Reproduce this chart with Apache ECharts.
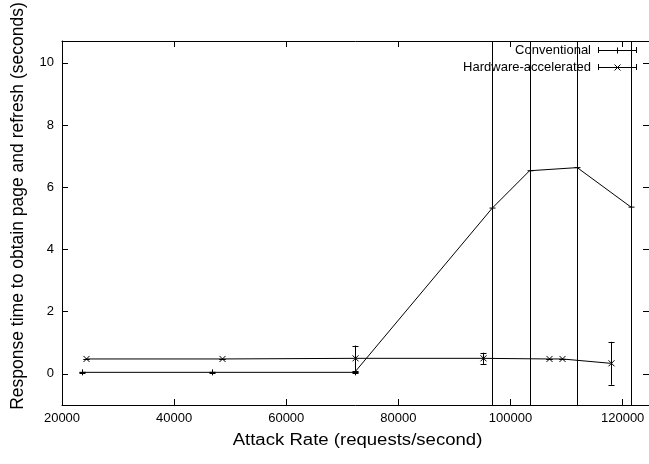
<!DOCTYPE html>
<html><head><meta charset="utf-8">
<script src="https://cdn.jsdelivr.net/npm/echarts@6/dist/echarts.min.js"></script>
<style>html,body{margin:0;padding:0;background:#fff}#c{width:649px;height:464px}</style>
</head><body><div id="c"></div>
<script>
const seriesNames = ['Conventional', 'Hardware-accelerated'];
const convX = [23600, 46800, 72200, 96750, 103400, 111900, 121500];
const convY = [0.05, 0.05, 0.05, 5.33, 6.53, 6.63, 5.36];
const convErr = [0.02, 0.02, 0.02, 9.5, 10.5, 11.0, 9.0];
const hwX = [24200, 48500, 72200, 95100, 106800, 109200, 117850];
const hwY = [0.48, 0.48, 0.50, 0.50, 0.48, 0.48, 0.34];
const hwErr = [0.01, 0.01, 0.41, 0.18, 0.01, 0.01, 0.69];
const xTicks = [20000, 40000, 60000, 80000, 100000, 120000];
const yTicks = [0, 2, 4, 6, 8, 10];
const xTitle = 'Attack Rate (requests/second)';
const yTitle = 'Response time to obtain page and refresh (seconds)';

const FONT = '"Liberation Sans", Arial, sans-serif';
const chart = echarts.init(document.getElementById('c'), null, {renderer: 'canvas'});
const st = {stroke: '#000', lineWidth: 1, fill: null};
const px = v => Math.round(v) + 0.5;

function markerShapes(kind, x, y, s) {
  if (kind === 'plus') {
    return [
      {type: 'line', shape: {x1: x - s, y1: y, x2: x + s, y2: y}, style: st},
      {type: 'line', shape: {x1: x, y1: y - s, x2: x, y2: y + s}, style: st}
    ];
  }
  return [
    {type: 'line', shape: {x1: x - s, y1: y - s, x2: x + s, y2: y + s}, style: st},
    {type: 'line', shape: {x1: x - s, y1: y + s, x2: x + s, y2: y - s}, style: st}
  ];
}

function makeRender(kind) {
  return function (params, api) {
    const cs = params.coordSys;
    const xv = api.value(0), yv = api.value(1), ev = api.value(2);
    const p = api.coord([xv, yv]);
    const top = api.coord([xv, yv + ev])[1];
    const bot = api.coord([xv, yv - ev])[1];
    const y0 = cs.y, y1 = cs.y + cs.height;
    const x = px(p[0]);
    const children = [];
    const t = Math.max(top, y0), b = Math.min(bot, y1);
    children.push({type: 'line', shape: {x1: x, y1: t, x2: x, y2: b}, style: st});
    const cw = 3;
    if (top >= y0) children.push({type: 'line', shape: {x1: x - cw, y1: px(top), x2: x + cw, y2: px(top)}, style: st});
    if (bot <= y1) children.push({type: 'line', shape: {x1: x - cw, y1: px(bot), x2: x + cw, y2: px(bot)}, style: st});
    markerShapes(kind, x, p[1], 3).forEach(c => children.push(c));
    return {type: 'group', children: children};
  };
}

const convData = convX.map((x, i) => [x, convY[i], convErr[i]]);
const hwData = hwX.map((x, i) => [x, hwY[i], hwErr[i]]);

const axisLineBlack = {show: true, onZero: false, lineStyle: {color: '#000', width: 1}};
const tickIn = {show: true, inside: true, length: 6, lineStyle: {color: '#000', width: 1}};

function legendItem(label, kind, y) {
  const x1 = 598, x2 = 636, xm = 617;
  const els = [
    {type: 'text', x: 591, y: y, style: {text: label, font: '13px ' + FONT, fill: '#000', textAlign: 'right', textVerticalAlign: 'middle'}},
    {type: 'line', shape: {x1: x1, y1: y + 0.5, x2: x2, y2: y + 0.5}, style: st},
    {type: 'line', shape: {x1: x1 + 0.5, y1: y - 3, x2: x1 + 0.5, y2: y + 3}, style: st},
    {type: 'line', shape: {x1: x2 + 0.5, y1: y - 3, x2: x2 + 0.5, y2: y + 3}, style: st}
  ];
  markerShapes(kind, xm + 0.5, y + 0.5, 3).forEach(c => els.push(c));
  return els;
}

const option = {
  backgroundColor: '#fff',
  animation: false,
  grid: {left: 62, top: 41, bottom: 59, right: -2, containLabel: false},
  xAxis: [
    {type: 'value', position: 'bottom', min: 20000, max: 124700, interval: 20000,
     axisLine: axisLineBlack, axisTick: tickIn, splitLine: {show: false},
     axisLabel: {color: '#000', fontFamily: FONT, fontSize: 13, margin: 7, showMaxLabel: false,
                 formatter: v => String(v)}},
    {type: 'value', position: 'top', min: 20000, max: 124700, interval: 20000,
     axisLine: axisLineBlack, axisTick: tickIn, splitLine: {show: false},
     axisLabel: {show: false}}
  ],
  yAxis: [
    {type: 'value', position: 'left', min: -1, max: 10.7,
     axisLine: axisLineBlack,
     axisTick: Object.assign({}, tickIn, {customValues: yTicks}),
     splitLine: {show: false},
     axisLabel: {color: '#000', fontFamily: FONT, fontSize: 13, margin: 8, customValues: yTicks,
                 formatter: v => String(v)}},
    {type: 'value', position: 'right', min: -1, max: 10.7,
     axisLine: axisLineBlack,
     axisTick: Object.assign({}, tickIn, {customValues: yTicks}),
     splitLine: {show: false}, axisLabel: {show: false}}
  ],
  series: [
    {name: seriesNames[0], type: 'line', data: convData.map(d => [d[0], d[1]]), symbol: 'none',
     lineStyle: {color: '#000', width: 1}, xAxisIndex: 0, yAxisIndex: 0, z: 2},
    {name: seriesNames[1], type: 'line', data: hwData.map(d => [d[0], d[1]]), symbol: 'none',
     lineStyle: {color: '#000', width: 1}, xAxisIndex: 0, yAxisIndex: 0, z: 2},
    {name: seriesNames[0] + ' err', type: 'custom', data: convData, renderItem: makeRender('plus'),
     encode: {x: 0, y: 1}, xAxisIndex: 0, yAxisIndex: 0, z: 3},
    {name: seriesNames[1] + ' err', type: 'custom', data: hwData, renderItem: makeRender('cross'),
     encode: {x: 0, y: 1}, xAxisIndex: 0, yAxisIndex: 0, z: 3}
  ],
  graphic: [
    {type: 'text', x: 357.5, y: 441, scaleX: 1.16, style: {text: xTitle, font: '16px ' + FONT, fill: '#000', textAlign: 'center', textVerticalAlign: 'middle'}},
    {type: 'text', x: 18, y: 206, rotation: Math.PI / 2, style: {text: yTitle, font: '17.5px ' + FONT, fill: '#000', textAlign: 'center', textVerticalAlign: 'middle'}}
  ].concat(legendItem(seriesNames[0], 'plus', 50)).concat(legendItem(seriesNames[1], 'cross', 67))
};
chart.setOption(option);
</script>
</body></html>
